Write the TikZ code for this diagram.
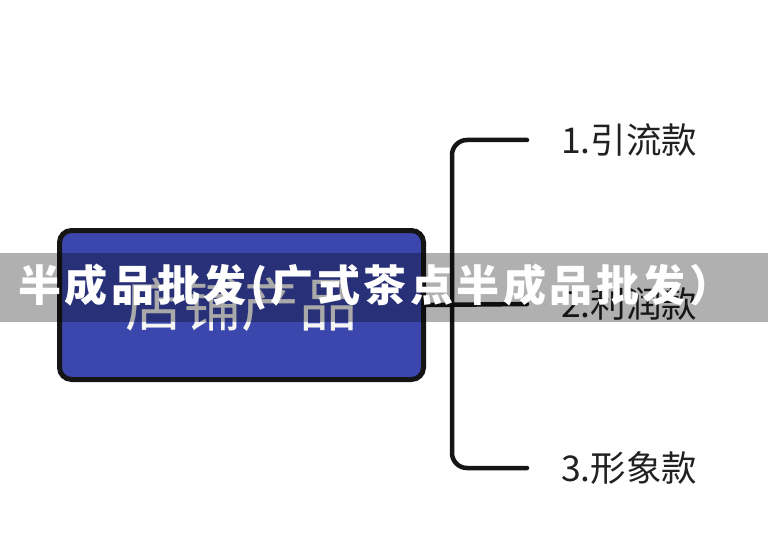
\documentclass[tikz,border=0pt]{standalone}
\usepackage{fontspec}
\newfontfamily\cjk{Noto Sans CJK SC}
\newfontfamily\cjkwide[LetterSpace=8]{Noto Sans CJK SC}
\definecolor{shopblue}{RGB}{59,71,173}
\definecolor{edge}{RGB}{21,21,21}

\begin{document}
\begin{tikzpicture}
  [x=1pt,y=-1pt,
   box/.style={rounded corners=12pt,draw=edge,line width=5pt,fill=shopblue,
     minimum width=364pt,minimum height=149pt,inner sep=0pt,
     text=white!92!gray,font=\cjk\fontsize{58}{64}\selectfont},
   item/.style={anchor=west,inner sep=0pt,text=edge!95!white,font=\cjk\fontsize{35.5}{40}\selectfont},
   branch/.style={line width=4.5pt,edge,line cap=round,rounded corners=15pt},
   band/.style={fill=black,fill opacity=0.31,minimum width=768pt,minimum height=69pt,inner sep=0pt},
   title/.style={anchor=west,inner sep=0pt,text=white,font=\cjkwide\bfseries\fontsize{43}{48}\selectfont}]
  \useasboundingbox (0,0) rectangle (768,556);

  \node[box] (shop) at (241.5,305) {店铺产品};

  \node[item] (a) at (561,140) {1.引流款};
  \node[item] (b) at (561,304) {2.利润款};
  \node[item] (c) at (561,468) {3.形象款};

  \coordinate (j) at (452,304);
  \coordinate (ea) at (527,140);
  \coordinate (eb) at (527,304);
  \coordinate (ec) at (527,468);

  \draw[branch] (ea) -| (j) |- (ec);
  \draw[branch] (shop.east) -- (eb);

  \node[band] (strip) at (384,287.5) {};
  \node[title] (t) at (18,287) {半成品批发(广式茶点半成品批发）};
\end{tikzpicture}
\end{document}
